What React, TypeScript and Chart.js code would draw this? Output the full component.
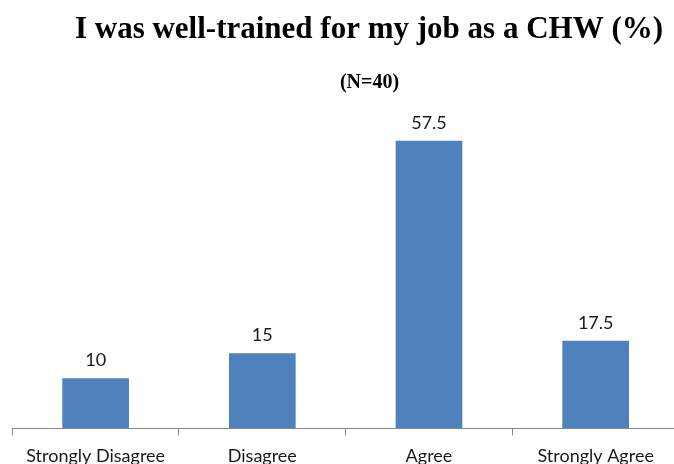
import React, { useEffect, useRef } from "react";
import { Chart, registerables } from "chart.js";

Chart.register(...registerables);

const categories = ["Strongly Disagree", "Disagree", "Agree", "Strongly Agree"];
const percentValues = [10, 15, 57.5, 17.5];
const chartTitle = "I was well-trained for my job as a CHW (%)";
const chartSubtitle = "(N=40)";

const BAR_COLOR = "#4F81BD";
const AXIS_COLOR = "#868686";
const LABEL_FONT = "Lato";

const CANVAS_W = 700;
const CANVAS_H = 484;

export default function App() {
  const canvasRef = useRef<HTMLCanvasElement | null>(null);

  useEffect(() => {
    const canvas = canvasRef.current;
    if (!canvas) return;

    const overlayPlugin = {
      id: "overlayText",
      afterDatasetsDraw(chart: any) {
        const ctx = chart.ctx;
        ctx.save();
        // Titles
        ctx.fillStyle = "#000000";
        ctx.textAlign = "center";
        ctx.textBaseline = "alphabetic";
        ctx.font = 'bold 31px "Liberation Serif"';
        ctx.fillText(chartTitle, 369, 38);
        ctx.font = 'bold 20px "Liberation Serif"';
        ctx.fillText(chartSubtitle, 369.5, 88);
        // Data labels
        const meta = chart.getDatasetMeta(0);
        ctx.font = `18px "${LABEL_FONT}"`;
        ctx.fillStyle = "#1a1a1a";
        meta.data.forEach((bar: any, i: number) => {
          ctx.fillText(String(percentValues[i]), bar.x, bar.y - 12);
        });
        ctx.restore();
      },
    };

    const chart = new Chart(canvas, {
      type: "bar",
      data: {
        labels: categories,
        datasets: [
          {
            data: percentValues,
            backgroundColor: BAR_COLOR,
            borderWidth: 0,
            barPercentage: 0.4,
            categoryPercentage: 1,
          },
        ],
      },
      options: {
        responsive: false,
        animation: false,
        devicePixelRatio: 1,
        layout: {
          padding: { top: 128.3, left: 12.3, right: CANVAS_W - 679, bottom: 7.1 },
        },
        plugins: {
          legend: { display: false },
          title: { display: false },
          tooltip: { enabled: false },
        },
        scales: {
          x: {
            offset: true,
            grid: {
              display: true,
              drawOnChartArea: false,
              drawTicks: true,
              tickLength: 7,
              color: AXIS_COLOR,
              offset: true,
            },
            border: { display: true, color: AXIS_COLOR, width: 1 },
            ticks: {
              color: "#1a1a1a",
              padding: 10,
              maxRotation: 0,
              autoSkip: false,
              font: { family: LABEL_FONT, size: 18 },
            },
          },
          y: {
            display: false,
            min: 0,
            max: 60,
          },
        },
      },
      plugins: [overlayPlugin],
    });

    return () => chart.destroy();
  }, []);

  return (
    <div
      style={{
        position: "absolute",
        left: 0,
        top: 0,
        width: 674,
        height: 464,
        overflow: "hidden",
        background: "#ffffff",
      }}
    >
      <canvas
        ref={canvasRef}
        width={CANVAS_W}
        height={CANVAS_H}
        style={{ display: "block", width: CANVAS_W, height: CANVAS_H }}
      />
    </div>
  );
}
